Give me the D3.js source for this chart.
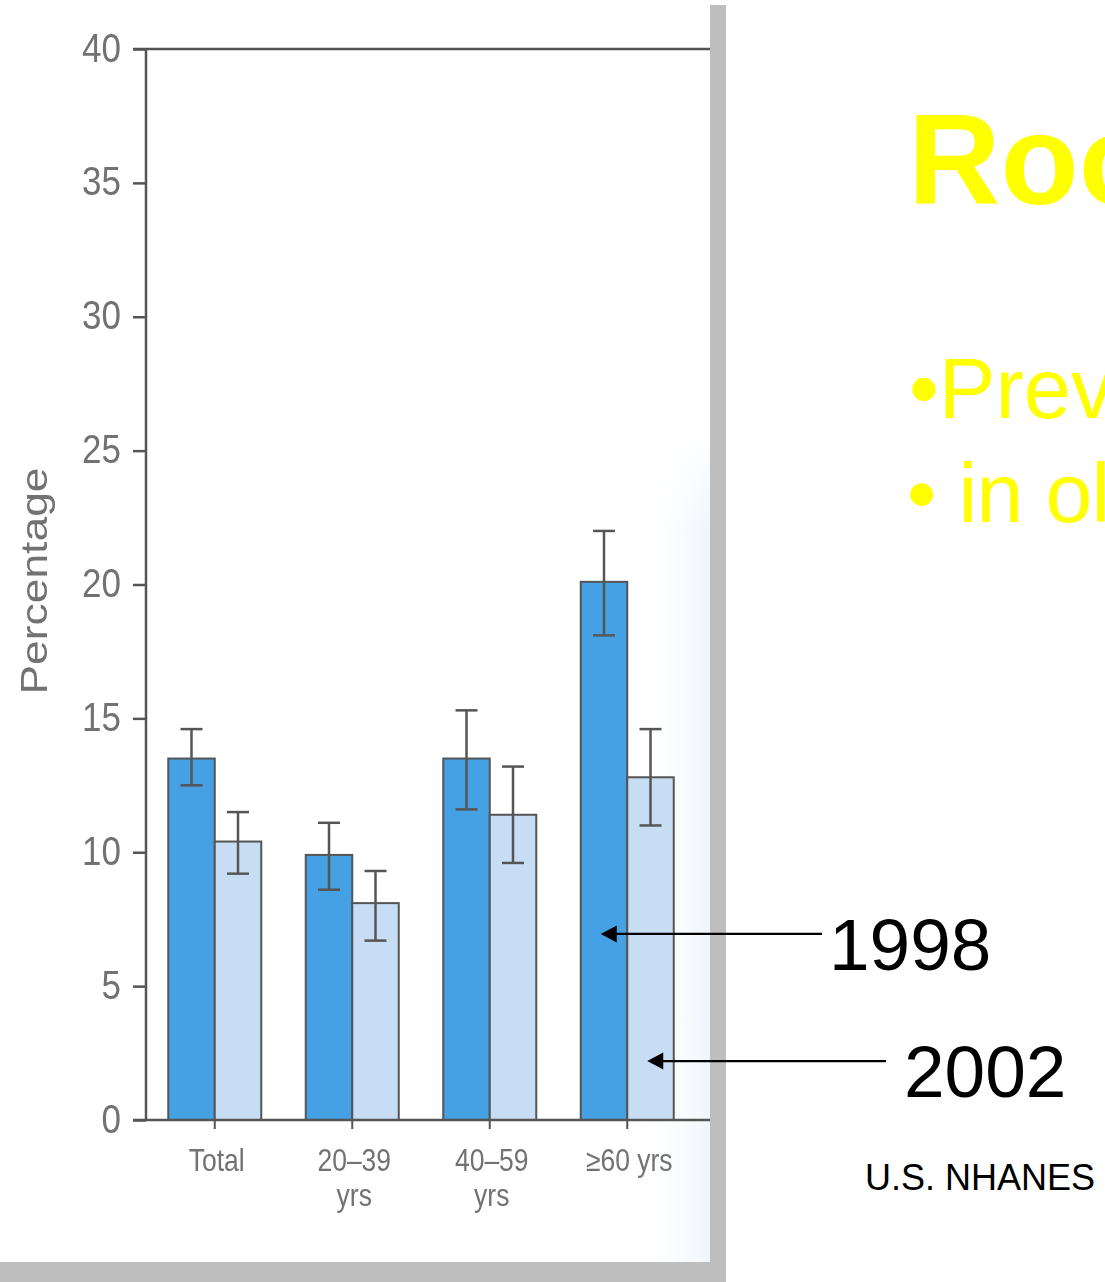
<!DOCTYPE html>
<html>
<head>
<meta charset="utf-8">
<script src="https://cdn.jsdelivr.net/npm/d3@7/dist/d3.min.js"></script>
<style>
  html, body { margin: 0; padding: 0; background: #ffffff; }
  svg { display: block; }
</style>
</head>
<body>
<svg id="slide" width="1105" height="1282"></svg>
<script>
// Prevalence by age group, NHANES survey years
const categories = ["Total", "20–39 yrs", "40–59 yrs", "≥60 yrs"];
const categoryLines = [["Total"], ["20–39", "yrs"], ["40–59", "yrs"], ["≥60 yrs"]];
const years = ["1998", "2002"];
const values1998 = [13.5, 9.9, 13.5, 20.1];
const values2002 = [10.4, 8.1, 11.4, 12.8];
const lower1998 = [12.5, 8.6, 11.6, 18.1];
const upper1998 = [14.6, 11.1, 15.3, 22.0];
const lower2002 = [9.2, 6.7, 9.6, 11.0];
const upper2002 = [11.5, 9.3, 13.2, 14.6];
const yTicks = [0, 5, 10, 15, 20, 25, 30, 35, 40];

const barColors = { "1998": "#45a0e4", "2002": "#c7ddf4" };
const inkColor = "#555";
const labelColor = "#727272";
const sans = "'Liberation Sans', Arial, sans-serif";

const rows = categories.map((c, i) => ({
  category: c,
  lines: categoryLines[i],
  bars: [
    { year: "1998", value: values1998[i], lo: lower1998[i], hi: upper1998[i] },
    { year: "2002", value: values2002[i], lo: lower2002[i], hi: upper2002[i] }
  ]
}));

const svg = d3.select("#slide");
const defs = svg.append("defs");

// soft scan-like look of the figure panel
defs.append("filter").attr("id", "soft")
  .append("feGaussianBlur").attr("stdDeviation", 0.55);

const tint = defs.append("linearGradient").attr("id", "tint")
  .attr("x1", 0).attr("x2", 1).attr("y1", 0).attr("y2", 0);
tint.append("stop").attr("offset", 0).attr("stop-color", "#ffffff").attr("stop-opacity", 0);
tint.append("stop").attr("offset", 1).attr("stop-color", "#eaf3fb").attr("stop-opacity", 1);

const tintFade = defs.append("linearGradient").attr("id", "tintFade")
  .attr("x1", 0).attr("x2", 0).attr("y1", 0).attr("y2", 1);
tintFade.append("stop").attr("offset", 0).attr("stop-color", "#fff").attr("stop-opacity", 0);
tintFade.append("stop").attr("offset", 0.12).attr("stop-color", "#fff").attr("stop-opacity", 1);
tintFade.append("stop").attr("offset", 1).attr("stop-color", "#fff").attr("stop-opacity", 1);
defs.append("mask").attr("id", "tintMask")
  .append("rect").attr("x", 600).attr("y", 430).attr("width", 110).attr("height", 832)
  .attr("fill", "url(#tintFade)");

// ---------- figure panel ----------
const panel = svg.append("g").attr("filter", "url(#soft)");

panel.append("rect").attr("x", 0).attr("y", 0).attr("width", 710).attr("height", 1262)
  .attr("fill", "#ffffff");
panel.append("rect").attr("x", 640).attr("y", 430).attr("width", 70).attr("height", 832)
  .attr("fill", "url(#tint)").attr("mask", "url(#tintMask)").attr("opacity", 0.8);

const plot = { left: 146, right: 696, top: 49, bottom: 1120 };

const y = d3.scaleLinear().domain([0, 40]).range([plot.bottom, plot.top]);
const x = d3.scaleBand().domain(categories)
  .range([plot.left, plot.right]).paddingInner(0.3236).paddingOuter(0.1618);
const xs = d3.scaleBand().domain(years).range([0, x.bandwidth()]);

// bars
const groups = panel.append("g").selectAll("g").data(rows).join("g")
  .attr("transform", d => `translate(${x(d.category)},0)`);

groups.selectAll("rect").data(d => d.bars).join("rect")
  .attr("x", d => xs(d.year))
  .attr("y", d => y(d.value))
  .attr("width", xs.bandwidth())
  .attr("height", d => y(0) - y(d.value))
  .attr("fill", d => barColors[d.year])
  .attr("stroke", inkColor).attr("stroke-width", 2);

// error bars
const capHalf = 11;
const err = groups.selectAll("g.err").data(d => d.bars).join("g").attr("class", "err")
  .attr("transform", d => `translate(${xs(d.year) + xs.bandwidth() / 2},0)`)
  .attr("stroke", inkColor).attr("stroke-width", 2.5);
err.append("line").attr("x1", 0).attr("x2", 0)
  .attr("y1", d => y(d.hi)).attr("y2", d => y(d.lo));
err.append("line").attr("x1", -capHalf).attr("x2", capHalf)
  .attr("y1", d => y(d.hi)).attr("y2", d => y(d.hi));
err.append("line").attr("x1", -capHalf).attr("x2", capHalf)
  .attr("y1", d => y(d.lo)).attr("y2", d => y(d.lo));

// y axis
const yAxis = panel.append("g").attr("transform", `translate(${plot.left},0)`)
  .call(d3.axisLeft(y).tickValues(yTicks).tickSize(13).tickPadding(10));
yAxis.select(".domain").remove();
yAxis.append("line").attr("x1", 0).attr("x2", 0)
  .attr("y1", plot.top).attr("y2", plot.bottom)
  .attr("stroke", inkColor).attr("stroke-width", 2.5);
yAxis.selectAll(".tick line").attr("stroke", inkColor).attr("stroke-width", 2.5);
yAxis.selectAll(".tick text")
  .attr("fill", labelColor)
  .style("font-family", sans)
  .style("font-size", "34px")
  .attr("dy", null).attr("y", null).attr("x", null)
  .attr("transform", "translate(-25,12) scale(1.03,1.2)");

// top frame line and baseline
panel.append("line").attr("x1", 133).attr("x2", 710)
  .attr("y1", plot.top).attr("y2", plot.top)
  .attr("stroke", inkColor).attr("stroke-width", 2.5);

const xAxis = panel.append("g").attr("transform", `translate(0,${plot.bottom})`)
  .call(d3.axisBottom(x).tickSize(9).tickFormat(""));
xAxis.select(".domain").remove();
xAxis.selectAll(".tick line").attr("stroke", inkColor).attr("stroke-width", 2);
panel.append("line").attr("x1", 133).attr("x2", 710)
  .attr("y1", plot.bottom).attr("y2", plot.bottom)
  .attr("stroke", inkColor).attr("stroke-width", 2.5);

// category labels
const catLabels = panel.append("g").selectAll("g").data(rows).join("g")
  .attr("transform", d => `translate(${x(d.category) + x.bandwidth() / 2 + 2},0)`);
catLabels.selectAll("text").data(d => d.lines).join("text")
  .attr("transform", (d, i) => `translate(0,${1171 + i * 35}) scale(1.02,1.18)`)
  .attr("text-anchor", "middle")
  .attr("fill", labelColor)
  .style("font-family", sans)
  .style("font-size", "26px")
  .text(d => d);

// axis title
panel.append("text")
  .attr("transform", "translate(47,581) rotate(-90) scale(1.2,1)")
  .attr("text-anchor", "middle")
  .attr("fill", labelColor)
  .style("font-family", sans)
  .style("font-size", "37px")
  .text("Percentage");

// frame bands
svg.append("rect").attr("x", 710).attr("y", 5).attr("width", 16).attr("height", 1277)
  .attr("fill", "#bebebe");
svg.append("rect").attr("x", 0).attr("y", 1262).attr("width", 726).attr("height", 20)
  .attr("fill", "#bebebe");

// ---------- slide text ----------
svg.append("text").attr("x", 908).attr("y", 204)
  .attr("fill", "#ffff00").style("font-family", sans)
  .style("font-size", "128px").style("font-weight", "bold")
  .text("Roo");
svg.append("text").attr("x", 909).attr("y", 418)
  .attr("fill", "#ffff00").style("font-family", sans).style("font-size", "85px")
  .text("•Prev");
svg.append("text").attr("x", 907).attr("y", 522)
  .attr("fill", "#ffff00").style("font-family", sans).style("font-size", "84px")
  .attr("letter-spacing", "-0.6")
  .text("• in ol");

// year pointers: 1998 points into the dark bar, 2002 into the light bar
const oldest = rows[3];
const pointers = [
  { label: years[0], tipX: x(oldest.category) + xs(years[0]) + 20, yv: 6.95, fromX: 822, textX: 829 },
  { label: years[1], tipX: x(oldest.category) + xs(years[1]) + 20, yv: 2.2, fromX: 886, textX: 904 }
];
const headLen = 16, headHalf = 8.5;
pointers.forEach(p => {
  const yy = y(p.yv);
  svg.append("line").attr("x1", p.fromX).attr("x2", p.tipX + headLen - 1)
    .attr("y1", yy).attr("y2", yy)
    .attr("stroke", "#000").attr("stroke-width", 2.2);
  svg.append("path")
    .attr("d", `M${p.tipX},${yy} L${p.tipX + headLen},${yy - headHalf} L${p.tipX + headLen},${yy + headHalf} Z`)
    .attr("fill", "#000");
  svg.append("text").attr("x", p.textX).attr("y", yy + 36)
    .attr("fill", "#000").style("font-family", sans).style("font-size", "73px")
    .text(p.label);
});

svg.append("text").attr("x", 865).attr("y", 1190)
  .attr("fill", "#000").style("font-family", sans).style("font-size", "36px")
  .text("U.S. NHANES");
</script>
</body>
</html>
